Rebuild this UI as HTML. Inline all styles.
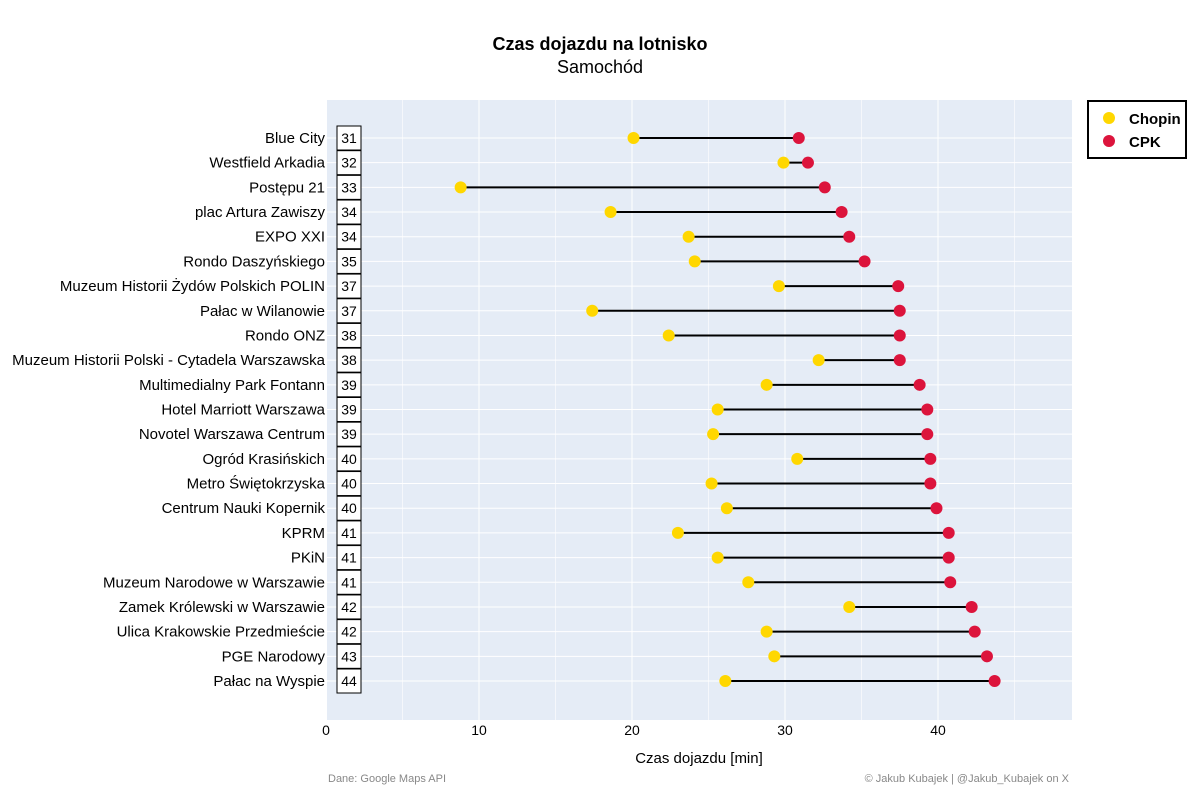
<!DOCTYPE html>
<html><head><meta charset="utf-8"><style>
body{margin:0;background:#fff;font-family:"Liberation Sans",sans-serif;}
</style></head><body>
<svg id="chart" width="1200" height="800" xmlns="http://www.w3.org/2000/svg" font-family="Liberation Sans, sans-serif">
<text x="600" y="50" text-anchor="middle" font-size="18" font-weight="bold">Czas dojazdu na lotnisko</text>
<text x="600" y="73" text-anchor="middle" font-size="18">Samochód</text>
<rect x="327" y="100" width="745" height="620" fill="#e5ecf6"/>
<g id="grid"></g><g id="marks"></g><g id="labels"></g>
<text x="699" y="763" text-anchor="middle" font-size="15">Czas dojazdu [min]</text>
<text x="328" y="782" font-size="11" fill="#888">Dane: Google Maps API</text>
<text x="1069" y="782" text-anchor="end" font-size="11" fill="#888">© Jakub Kubajek | @Jakub_Kubajek on X</text>
<g>
<rect x="1088" y="101" width="98" height="57" fill="#fff" stroke="#000" stroke-width="2"/>
<circle cx="1109" cy="118" r="6" fill="#FFD700"/>
<text x="1129" y="124" font-size="15" font-weight="bold">Chopin</text>
<circle cx="1109" cy="141" r="6" fill="#DC143C"/>
<text x="1129" y="147" font-size="15" font-weight="bold">CPK</text>
</g>
</svg>
<script>
const categories=["Blue City","Westfield Arkadia","Postępu 21","plac Artura Zawiszy","EXPO XXI","Rondo Daszyńskiego","Muzeum Historii Żydów Polskich POLIN","Pałac w Wilanowie","Rondo ONZ","Muzeum Historii Polski - Cytadela Warszawska","Multimedialny Park Fontann","Hotel Marriott Warszawa","Novotel Warszawa Centrum","Ogród Krasińskich","Metro Świętokrzyska","Centrum Nauki Kopernik","KPRM","PKiN","Muzeum Narodowe w Warszawie","Zamek Królewski w Warszawie","Ulica Krakowskie Przedmieście","PGE Narodowy","Pałac na Wyspie"];
const chopin=[20.1,29.9,8.8,18.6,23.7,24.1,29.6,17.4,22.4,32.2,28.8,25.6,25.3,30.8,25.2,26.2,23.0,25.6,27.6,34.2,28.8,29.3,26.1];
const cpk=[30.9,31.5,32.6,33.7,34.2,35.2,37.4,37.5,37.5,37.5,38.8,39.3,39.3,39.5,39.5,39.9,40.7,40.7,40.8,42.2,42.4,43.2,43.7];
const boxLabels=["31","32","33","34","34","35","37","37","38","38","39","39","39","40","40","40","41","41","41","42","42","43","44"];
const xTicks=[0,10,20,30,40];
const xMinor=[5,15,25,35,45];
const NS="http://www.w3.org/2000/svg";
const xs=v=>326+v*15.3;
const ys=i=>138+i*(681-138)/(categories.length-1);
function mk(tag,attrs,parent,text){const e=document.createElementNS(NS,tag);for(const k in attrs)e.setAttribute(k,attrs[k]);if(text!==undefined)e.textContent=text;document.getElementById(parent).appendChild(e);return e;}
xTicks.concat(xMinor).forEach(t=>{
 const l=mk('line',{x1:xs(t),x2:xs(t),y1:100,y2:720,stroke:'#fff','stroke-width':xTicks.includes(t)?1:0.6},'grid');
 
 
});
xTicks.forEach(t=>{
 const tx=mk('text',{x:xs(t),y:735,'text-anchor':'middle','font-size':14},'labels',String(t));
 
 
});
categories.forEach((c,i)=>{
 const y=ys(i);
 const g=mk('line',{x1:327,x2:1072,y1:y,y2:y,stroke:'#fff','stroke-width':1},'grid');
 
 
 const lab=mk('text',{x:325,y:y+5,'text-anchor':'end','font-size':15},'labels',c);
 
 
 const b=mk('rect',{x:337,y:y-12,width:24,height:24,fill:'#fff',stroke:'#000','stroke-width':1},'labels');
 
 
 const bt=mk('text',{x:349,y:y+5,'text-anchor':'middle','font-size':14},'labels',boxLabels[i]);
 
 
 const ln=mk('line',{x1:xs(chopin[i]),x2:xs(cpk[i]),y1:y,y2:y,stroke:'#000','stroke-width':2},'marks');
 
 
 const p1=mk('circle',{cx:xs(chopin[i]),cy:y,r:6,fill:'#FFD700'},'marks');
 
 
 const p2=mk('circle',{cx:xs(cpk[i]),cy:y,r:6,fill:'#DC143C'},'marks');
 
 
});
</script>
</body></html>
